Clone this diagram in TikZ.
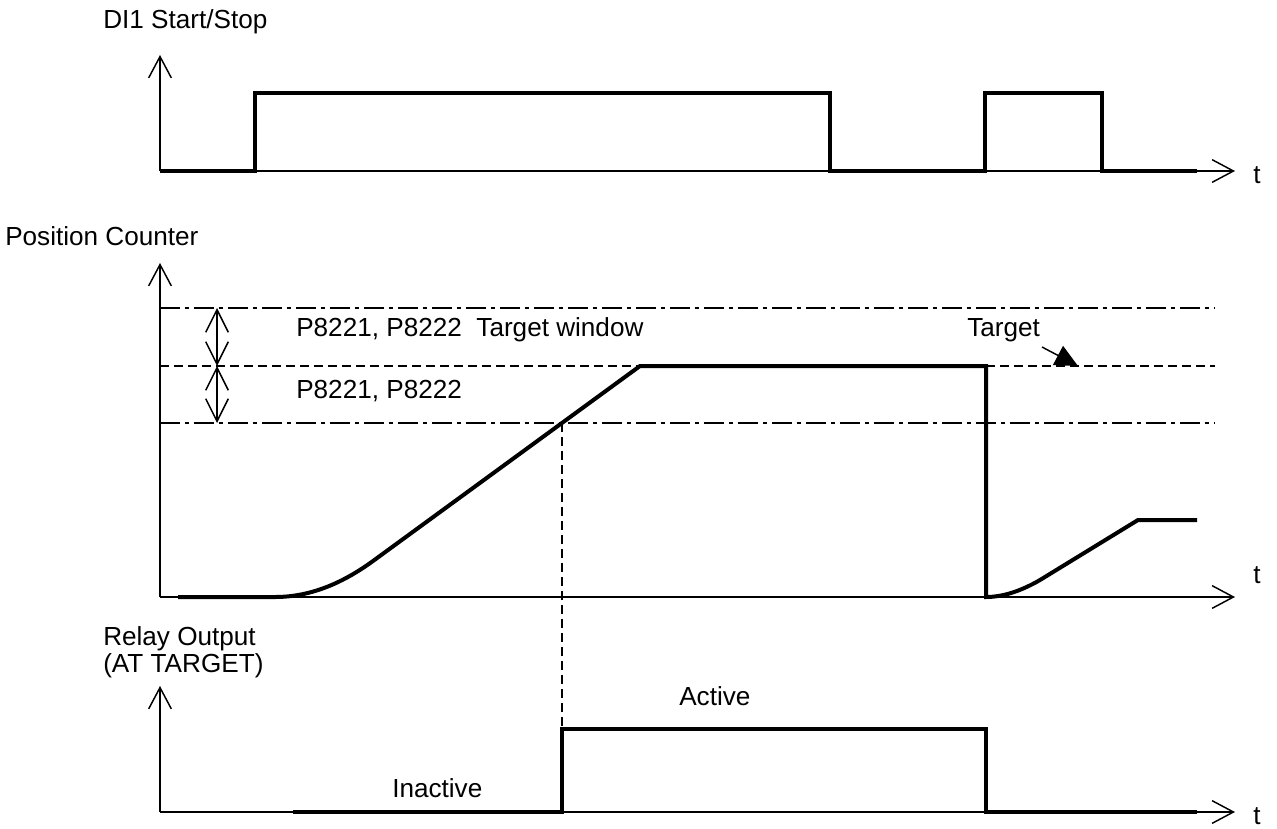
\documentclass[tikz,border=0pt]{standalone}
\usepackage{fontspec}
\setmainfont{Liberation Sans}
\usetikzlibrary{arrows.meta}
\begin{document}
\begin{tikzpicture}[x=0.75pt,y=-0.75pt,
  axis/.style={line width=1.1pt,-{Straight Barb[length=16pt,width=17pt,line width=1.1pt]}},
  wave/.style={line width=3pt,line join=miter,line cap=butt},
  dimarrow/.style={line width=1.1pt,{Straight Barb[length=17pt,width=17pt,line width=1.1pt]}-{Straight Barb[length=17pt,width=17pt,line width=1.1pt]}},
  dashdot/.style={line width=1.1pt,dash pattern=on 15pt off 3.5pt on 3.5pt off 3.5pt},
  dashline/.style={line width=1.1pt,dash pattern=on 6.75pt off 3.75pt},
  lbl/.style={inner sep=0pt,anchor=base west,font=\fontsize{19.6}{23}\selectfont},
  pointer/.style={line width=1.1pt,-{Triangle[length=17pt,width=16pt]}}]
\useasboundingbox (0,0) rectangle (1277,828);

% ---------- DI1 Start/Stop ----------
\coordinate (o1) at (160,171);
\coordinate (y1) at (160,55);
\coordinate (x1) at (1235,171);
\node[lbl] (l1) at (103,28) {DI1 Start/Stop};
\node[lbl] (t1) at (1253,183) {t};
\draw[axis] (o1) -- (y1);
\draw[axis] (o1) -- (x1);
\draw[wave] (o1) -- (255,171) -- (255,93) -- (830,93) -- (830,171)
  -- (985,171) -- (985,93) -- (1102,93) -- (1102,171) -- (1197,171);

% ---------- Position Counter ----------
\coordinate (o2) at (160,597);
\coordinate (y2) at (160,263);
\coordinate (x2) at (1235,597);
\node[lbl] (l2) at (5,245) {Position Counter};
\node[lbl] (t2) at (1253,583) {t};
\draw[axis] (o2) -- (y2);
\draw[axis] (o2) -- (x2);

% window limits
\coordinate (wtop) at (160,308);
\coordinate (wmid) at (160,366);
\coordinate (wbot) at (160,423);
\draw[dashdot] (wtop) -- (1215,308);
\draw[dashline] (wmid) -- (1215,366);
\draw[dashdot] (wbot) -- (1215,423);

% window width arrows
\coordinate (d1) at (217,308);
\coordinate (d2) at (217,366);
\coordinate (d3) at (217,423);
\draw[dimarrow] (d1) -- (d2);
\draw[dimarrow] (d2) -- (d3);
\node[lbl] (p1) at (296,336) {P8221, P8222\ \ Target window};
\node[lbl] (p2) at (296,398) {P8221, P8222};

% target pointer
\node[lbl] (tg) at (967,336) {Target};
\coordinate (tgtip) at (1078,366);
\draw[pointer] (1042,347) -- (tgtip);

% counter trace
\draw[wave] (178,597) -- (275,597)
  .. controls (308,597) and (340,585) .. (373,561)
  -- (640,366) -- (986,366) -- (986,597)
  .. controls (1003,597) and (1021,591) .. (1040,580)
  -- (1138,520) -- (1197,520);

% ---------- Relay Output ----------
\coordinate (o3) at (160,812);
\coordinate (y3) at (160,686);
\coordinate (x3) at (1235,812);
\node[lbl] (l3a) at (103,645) {Relay Output};
\node[lbl] (l3b) at (103,672) {(AT TARGET)};
\node[lbl] (t3) at (1253,824) {t};
\draw[axis] (o3) -- (y3);
\draw[axis] (o3) -- (x3);
\coordinate (hit) at (562,423);
\coordinate (rise) at (562,729);
\draw[dashline] (hit) -- (rise);
\draw[wave] (293,812) -- (562,812) -- (rise) -- (986,729) -- (986,812) -- (1197,812);
\node[lbl] (act) at (679,705) {Active};
\node[lbl] (inact) at (392,797) {Inactive};
\end{tikzpicture}
\end{document}
